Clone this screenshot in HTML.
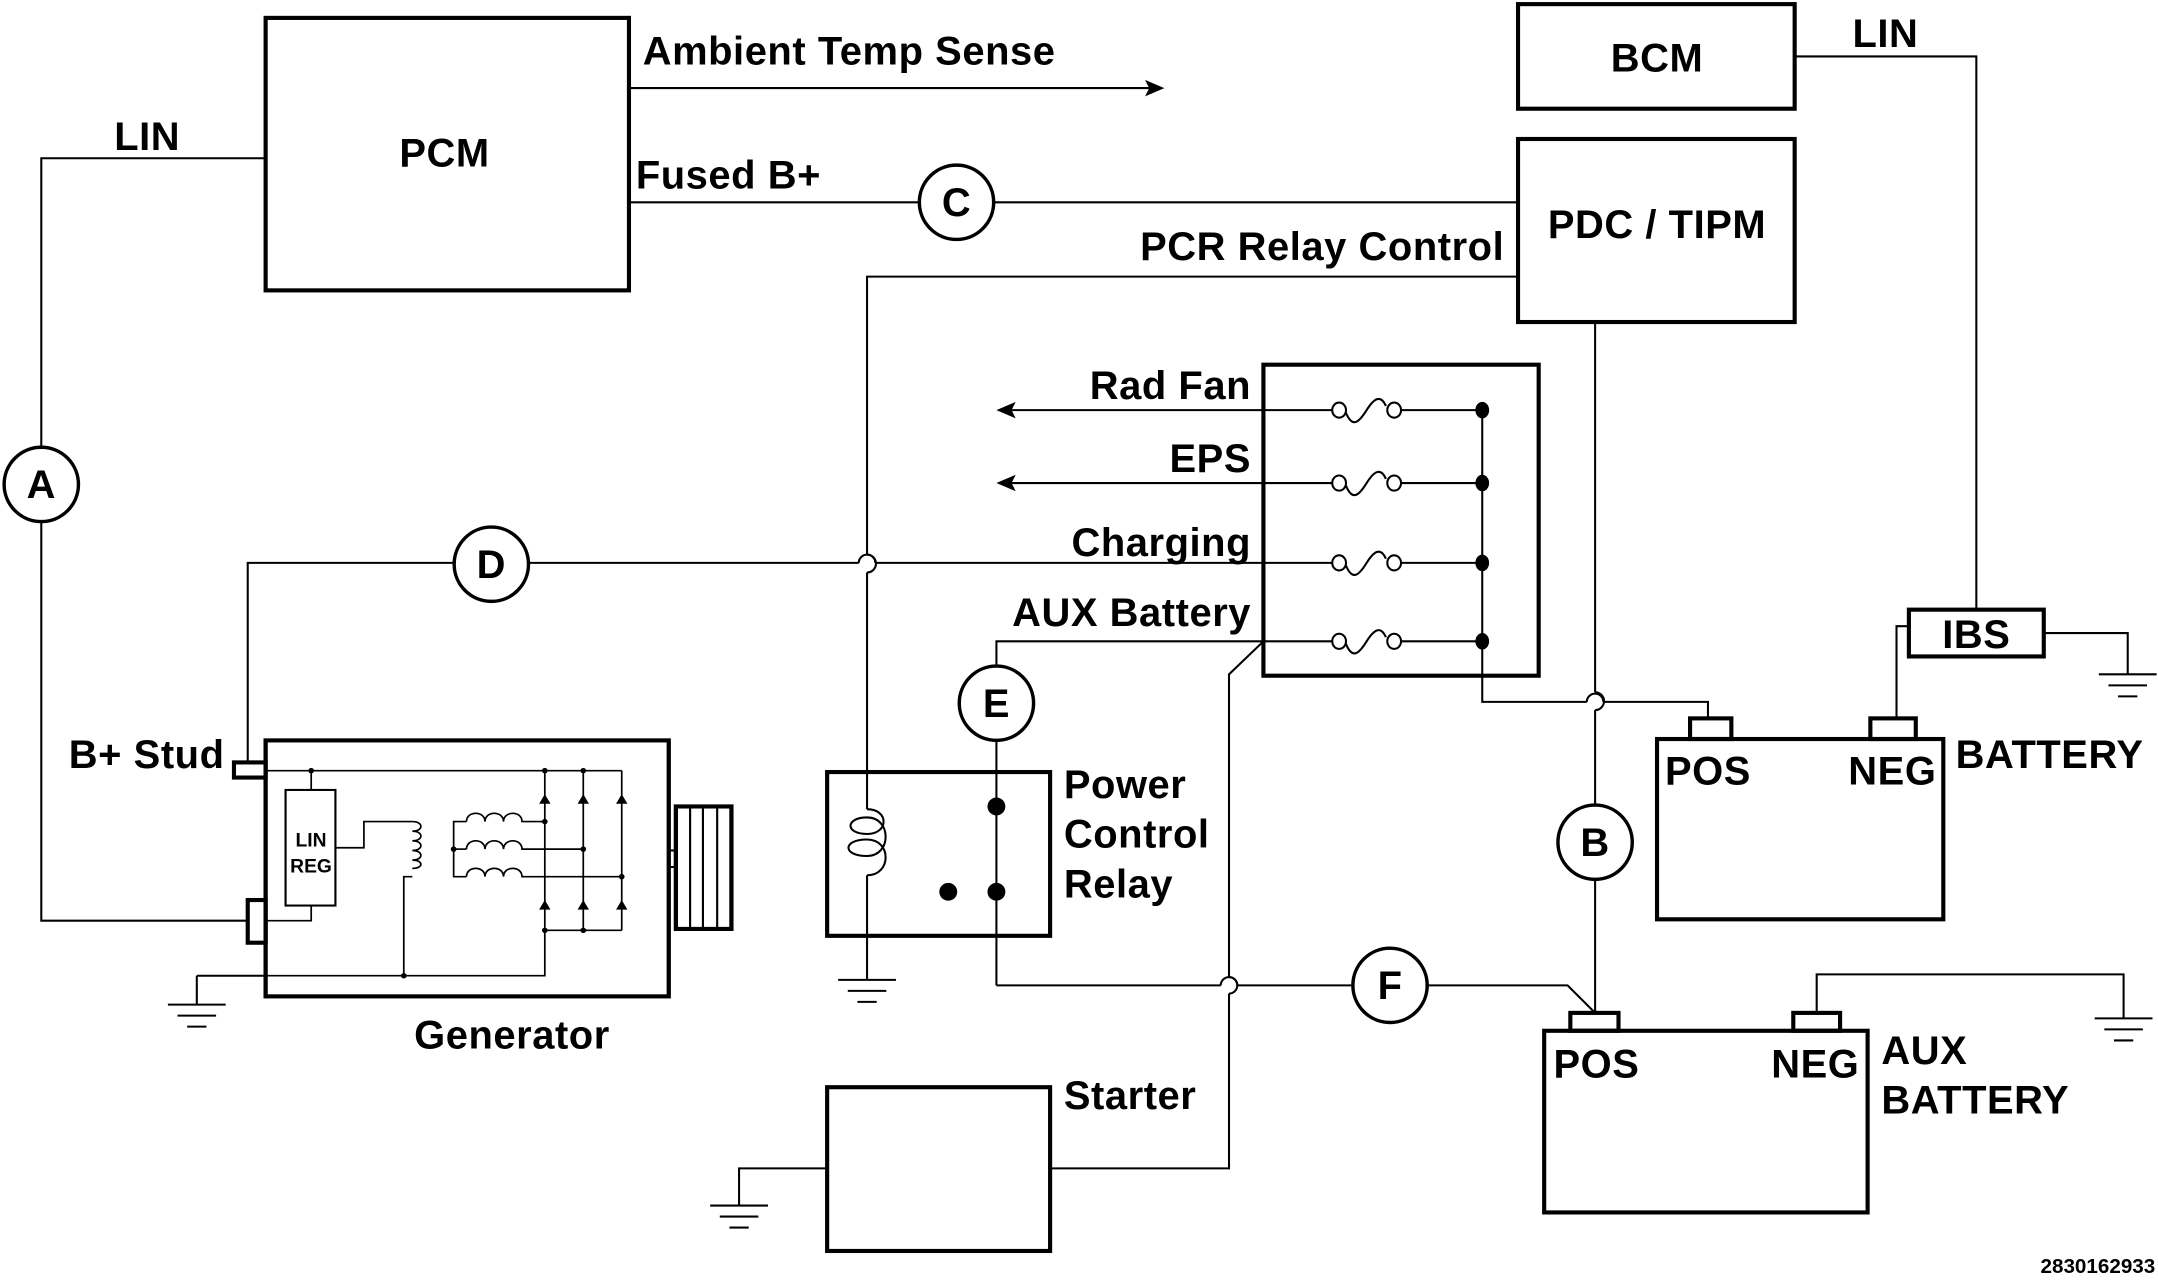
<!DOCTYPE html>
<html><head><meta charset="utf-8"><style>
html,body{margin:0;padding:0;background:#fff;}
svg{display:block;}
text{font-family:"Liberation Sans",Arial,sans-serif;font-weight:bold;fill:#000;}
</style></head><body>
<svg width="2158" height="1284" viewBox="0 0 1568 933" preserveAspectRatio="none" xmlns="http://www.w3.org/2000/svg">
<defs>
<g id="gnd" stroke="#000" stroke-width="1.5"><line x1="-21" y1="0" x2="21" y2="0"/><line x1="-14" y1="8" x2="14" y2="8"/><line x1="-7" y1="16" x2="7" y2="16"/></g>
<g id="fuse" fill="none" stroke="#000" stroke-width="1.5"><ellipse cx="-20" cy="0" rx="5" ry="5.5"/><path d="M-15,2 C-10,14 -5,8 0,0 C5,-8 10,-12 14,-3"/><ellipse cx="20" cy="0" rx="5" ry="5.5"/></g>
</defs>
<g fill="none" stroke="#000" stroke-width="1.5">
<rect x="193" y="13" width="264" height="198" stroke-width="3"/>
<rect x="1103" y="3" width="201" height="76" stroke-width="3"/>
<rect x="1103" y="101" width="201" height="133" stroke-width="3"/>
<rect x="918" y="265" width="200" height="226" stroke-width="3"/>
<rect x="601" y="561" width="162" height="119" stroke-width="3"/>
<rect x="601" y="790" width="162" height="119" stroke-width="3"/>
<rect x="1204" y="537" width="208" height="131" stroke-width="3"/>
<rect x="1122" y="749" width="235" height="132" stroke-width="3"/>
<rect x="1387" y="443" width="98" height="34" stroke-width="3"/>
<rect x="1228" y="522" width="30" height="15" stroke-width="3"/>
<rect x="1359" y="522" width="33" height="15" stroke-width="3"/>
<rect x="1141" y="736" width="35" height="13" stroke-width="3"/>
<rect x="1303" y="736" width="34" height="13" stroke-width="3"/>
<line x1="457" y1="64" x2="838" y2="64"/>
<line x1="457" y1="147" x2="668" y2="147"/><line x1="722" y1="147" x2="1103" y2="147"/>
<circle cx="695" cy="147" r="27" stroke-width="2.5"/>
<polyline points="193,115 30,115 30,325"/>
<polyline points="30,379 30,669 180,669"/>
<circle cx="30" cy="352" r="27" stroke-width="2.5"/>
<polyline points="1304,41 1436,41 1436,443"/>
<polyline points="1378,522 1378,455 1387,455"/>
<polyline points="1485,460 1546,460 1546,490"/>
<polyline points="1103,201 630,201 630,403"/>
<path d="M630,403 a6,6 0 0 1 0,13"/>
<polyline points="630,416 630,588"/>
<path d="M630,588 C646,588 646,606 630,606 C614,606 614,594 630,594 C648,594 648,622 630,622 C612,622 612,610 630,610 C648,610 648,636 630,636"/>
<line x1="630" y1="636" x2="630" y2="712"/>
<polyline points="1159,234 1159,503"/>
<path d="M1159,503 a6,6 0 0 1 0,13"/>
<polyline points="1159,516 1159,585"/>
<circle cx="1159" cy="612" r="27" stroke-width="2.5"/>
<polyline points="1159,639 1159,736"/>
<line x1="732" y1="298" x2="968" y2="298"/><line x1="1018" y1="298" x2="1077" y2="298"/>
<line x1="732" y1="351" x2="968" y2="351"/><line x1="1018" y1="351" x2="1077" y2="351"/>
<line x1="384" y1="409" x2="624" y2="409"/><line x1="636" y1="409" x2="968" y2="409"/><line x1="1018" y1="409" x2="1077" y2="409"/>
<path d="M624,409 a6,6 0 0 1 12,0"/>
<polyline points="724,484 724,466 968,466"/><line x1="1018" y1="466" x2="1077" y2="466"/>
<polyline points="1077,298 1077,510 1153,510"/>
<path d="M1153,510 a6,6 0 0 1 12,0"/>
<polyline points="1165,510 1241,510 1241,522"/>
<circle cx="357" cy="410" r="27" stroke-width="2.5"/>
<polyline points="330,409 180,409 180,554"/>
<circle cx="724" cy="511" r="27" stroke-width="2.5"/>
<line x1="724" y1="538" x2="724" y2="716"/>
<polyline points="918,466 893,490 893,710"/>
<path d="M893,710 a6,6 0 0 1 0,12" />
<polyline points="893,722 893,849 763,849"/>
<polyline points="724,716 887,716"/>
<path d="M887,716 a6,6 0 0 1 12,0"/>
<polyline points="899,716 983,716"/>
<circle cx="1010" cy="716" r="27" stroke-width="2.5"/>
<polyline points="1037,716 1139,716 1159,736"/>
<polyline points="1320,736 1320,708 1543,708 1543,740"/>
<polyline points="601,849 537,849 537,876"/>
<rect x="170" y="554" width="23" height="11" stroke-width="3"/>
<rect x="180" y="654" width="13" height="31" stroke-width="3"/>
<line x1="143" y1="709" x2="193" y2="709"/>
<line x1="143" y1="709" x2="143" y2="730"/>
<g transform="translate(193,0) scale(1.035,1) translate(-193,0)">
<rect x="193" y="538" width="283" height="186" stroke-width="3"/>
<rect x="481" y="586" width="39" height="89" stroke-width="3"/>
<line x1="491" y1="586" x2="491" y2="675"/><line x1="500" y1="586" x2="500" y2="675"/><line x1="510" y1="586" x2="510" y2="675"/>
<line x1="476" y1="618" x2="481" y2="618"/><line x1="476" y1="630" x2="481" y2="630"/>
<g stroke-width="1.2">
<line x1="193" y1="560" x2="443" y2="560"/>
<line x1="225" y1="560" x2="225" y2="574"/>
<rect x="207" y="574" width="35" height="84" stroke-width="1.5"/>
<polyline points="225,658 225,669 193,669"/>
<polyline points="242,616 262,616 262,597 296,597"/>
<path d="M296,597 c8,0 8,7 0,7 c8,0 8,7 0,7 c8,0 8,7 0,7 c8,0 8,7 0,7 c8,0 8,6 0,6"/>
<polyline points="296,637 290,637 290,709"/>
<polyline points="193,709 389,709 389,676 443,676"/>
<line x1="389" y1="560" x2="389" y2="676"/>
<line x1="416" y1="560" x2="416" y2="676"/>
<line x1="443" y1="560" x2="443" y2="676"/>
<polyline points="334,597 325,597 325,637 334,637"/>
<line x1="325" y1="617" x2="334" y2="617"/>
<path d="M334,597 c0,-8 13,-8 13,0 c0,-8 13,-8 13,0 c0,-8 13,-8 13,0 l16,0"/>
<path d="M334,617 c0,-8 13,-8 13,0 c0,-8 13,-8 13,0 c0,-8 13,-8 13,0 l43,0"/>
<path d="M334,637 c0,-8 13,-8 13,0 c0,-8 13,-8 13,0 c0,-8 13,-8 13,0 l70,0"/>
</g>
<g fill="#000" stroke="none">
<circle cx="225" cy="560" r="2"/><circle cx="389" cy="560" r="2"/><circle cx="416" cy="560" r="2"/>
<circle cx="389" cy="597" r="2"/><circle cx="416" cy="617" r="2"/><circle cx="443" cy="637" r="2"/>
<circle cx="325" cy="617" r="2"/><circle cx="389" cy="676" r="2"/><circle cx="416" cy="676" r="2"/><circle cx="290" cy="709" r="2"/>
<path d="M385,584 L393,584 L389,577 Z"/><path d="M412,584 L420,584 L416,577 Z"/><path d="M439,584 L447,584 L443,577 Z"/>
<path d="M385,661 L393,661 L389,654 Z"/><path d="M412,661 L420,661 L416,654 Z"/><path d="M439,661 L447,661 L443,654 Z"/>
</g>
</g>
</g>
<use href="#gnd" x="143" y="730"/>
<use href="#gnd" x="630" y="712"/>
<use href="#gnd" x="537" y="876"/>
<use href="#gnd" x="1546" y="490"/>
<use href="#gnd" x="1543" y="740"/>
<use href="#fuse" x="993" y="298"/>
<use href="#fuse" x="993" y="351"/>
<use href="#fuse" x="993" y="409"/>
<use href="#fuse" x="993" y="466"/>
<g fill="#000">
<ellipse cx="1077" cy="298" rx="5" ry="6"/><ellipse cx="1077" cy="351" rx="5" ry="6"/>
<ellipse cx="1077" cy="409" rx="5" ry="6"/><ellipse cx="1077" cy="466" rx="5" ry="6"/>
<circle cx="724" cy="586" r="6.5"/><circle cx="724" cy="648" r="6.5"/><circle cx="689" cy="648" r="6.5"/>
<path d="M846,64 L832,58 L835,64 L832,70 Z"/>
<path d="M724,298 L738,292 L735,298 L738,304 Z"/>
<path d="M724,351 L738,345 L735,351 L738,357 Z"/>
</g>
<g font-size="29" letter-spacing="0.4">
<text x="323" y="121" text-anchor="middle">PCM</text>
<text x="467" y="47">Ambient Temp Sense</text>
<text x="462" y="137">Fused B+</text>
<text x="83" y="109">LIN</text>
<text x="1346" y="34">LIN</text>
<text x="1204" y="52" text-anchor="middle">BCM</text>
<text x="1204" y="173" text-anchor="middle">PDC / TIPM</text>
<text x="1093" y="189" text-anchor="end">PCR Relay Control</text>
<text x="909" y="290" text-anchor="end">Rad Fan</text>
<text x="909" y="343" text-anchor="end">EPS</text>
<text x="909" y="404" text-anchor="end">Charging</text>
<text x="909" y="455" text-anchor="end">AUX Battery</text>
<text x="773" y="580">Power</text>
<text x="773" y="616">Control</text>
<text x="773" y="652">Relay</text>
<text x="773" y="806">Starter</text>
<text x="50" y="558">B+ Stud</text>
<text x="372" y="762" text-anchor="middle">Generator</text>
<text x="1436" y="471" text-anchor="middle">IBS</text>
<text x="1241" y="570" text-anchor="middle">POS</text>
<text x="1375" y="570" text-anchor="middle">NEG</text>
<text x="1421" y="558">BATTERY</text>
<text x="1160" y="783" text-anchor="middle">POS</text>
<text x="1319" y="783" text-anchor="middle">NEG</text>
<text x="1367" y="773">AUX</text>
<text x="1367" y="809">BATTERY</text>
<text x="30" y="362" text-anchor="middle">A</text>
<text x="1159" y="622" text-anchor="middle">B</text>
<text x="695" y="157" text-anchor="middle">C</text>
<text x="357" y="420" text-anchor="middle">D</text>
<text x="724" y="521" text-anchor="middle">E</text>
<text x="1010" y="726" text-anchor="middle">F</text>
</g>
<text x="226" y="615" font-size="14" text-anchor="middle">LIN</text>
<text x="226" y="634" font-size="14" text-anchor="middle">REG</text>
<text x="1566" y="925" font-size="15" text-anchor="end">2830162933</text>
</svg>
</body></html>
